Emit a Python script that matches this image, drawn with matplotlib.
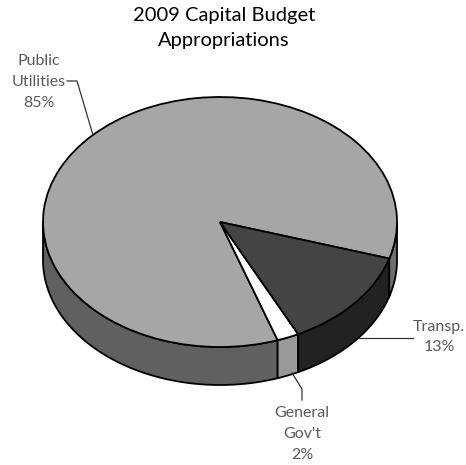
import numpy as np
import matplotlib
matplotlib.use('Agg')
import matplotlib.pyplot as plt

plt.rcParams['font.family'] = ['Lato', 'DejaVu Sans']

# 예산 비율 (시계 반대 방향 순서)
categories = ['Public Utilities', "General Gov't", 'Transp.']
shares = [85, 2, 13]
top_colors = ['#a6a6a6', '#ffffff', '#444444']
side_colors = ['#606060', '#999999', '#222222']
right_side_color = '#6e6e6e'
start_angle = -17

WIDTH, HEIGHT = 466, 465
CX, CY = 220, 222      # 파이 중심 (픽셀)
RX, RY = 177, 125      # 타원 반지름 (픽셀)
DEPTH = 38 / RY        # 옆면 두께


def px(x, y):
    # 픽셀 좌표를 데이터 좌표로 변환
    return (x - CX) / RX, (CY - y) / RY


fig = plt.figure(figsize=(WIDTH / 100, HEIGHT / 100), dpi=100)
ax = fig.add_axes([0, 0, 1, 1])


def draw_side(a1, a2, color):
    # 앞쪽으로 보이는 옆면 띠 그리기
    t = np.radians(np.linspace(a1, a2, 60))
    xs = np.concatenate([np.cos(t), np.cos(t[::-1])])
    ys = np.concatenate([np.sin(t), np.sin(t[::-1]) - DEPTH])
    ax.fill(xs, ys, facecolor=color, edgecolor='black', linewidth=1.3, joinstyle='round')


angle = start_angle
edges = [angle]
for s in shares:
    angle += s * 3.6
    edges.append(angle)

# 옆면은 180~360도 구간만 보임
draw_side(180, edges[1], side_colors[0])
draw_side(edges[1], edges[2], side_colors[1])
draw_side(edges[2], edges[3], side_colors[2])
draw_side(edges[3], 360, right_side_color)

# 윗면
ax.pie(shares, colors=top_colors, startangle=start_angle, counterclock=True,
       radius=1, wedgeprops={'edgecolor': 'black', 'linewidth': 1.3})

ax.set_aspect('auto')
ax.set_xlim((0 - CX) / RX, (WIDTH - CX) / RX)
ax.set_ylim((CY - HEIGHT) / RY, CY / RY)
ax.axis('off')

# 제목
tx, ty = px(224, 28)
ax.text(tx, ty, '2009 Capital Budget\nAppropriations', ha='center', va='center',
        fontsize=14.5, color='black', linespacing=1.6)

# 라벨과 지시선
label_color = '#5a5a5a'
line_color = '#333333'
for (x, y), text in [((39, 82), 'Public\nUtilities\n85%'),
                     ((439, 337), 'Transp.\n13%'),
                     ((302, 434), "General\nGov't\n2%")]:
    lx, ly = px(x, y)
    ax.text(lx, ly, text, ha='center', va='center', fontsize=11.5,
            color=label_color, linespacing=1.6)

for pts in [[(67, 81), (77, 81), (93, 135)],
            [(358, 338), (413, 338)],
            [(292, 373), (302, 389), (302, 400)]]:
    xy = np.array([px(*p) for p in pts])
    ax.plot(xy[:, 0], xy[:, 1], color=line_color, linewidth=0.9)

fig.savefig('out.png', dpi=100)
plt.close(fig)
